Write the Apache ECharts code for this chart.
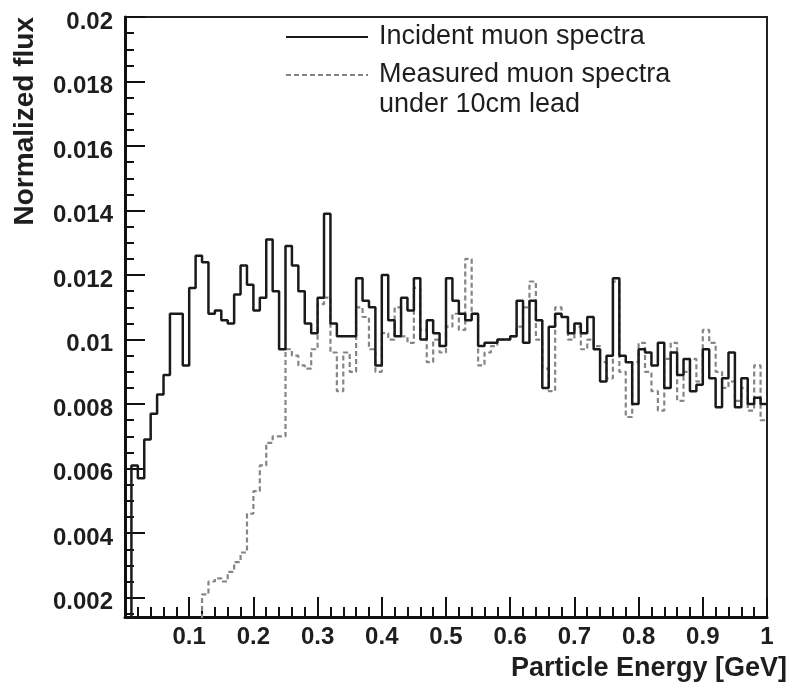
<!DOCTYPE html>
<html><head><meta charset="utf-8">
<script src="https://cdn.jsdelivr.net/npm/echarts@6/dist/echarts.min.js"></script>
<style>html,body{margin:0;padding:0;background:#fff}#c{width:792px;height:689px}</style>
</head><body><div id="c"></div>
<script>
// Histogram bins: 100 bins of width 0.01 GeV starting at 0
const binStart = 0;
const binWidth = 0.01;

const incidentName = 'Incident muon spectra';
const measuredName = 'Measured muon spectra\nunder 10cm lead';

const incident = [
  0.0010, 0.0061, 0.0057, 0.0069, 0.0077, 0.0083, 0.0089, 0.0108, 0.0108, 0.0092,
  0.0116, 0.0126, 0.0124, 0.0108, 0.0109, 0.0106, 0.0105, 0.0114, 0.0123, 0.0117,
  0.0109, 0.0113, 0.0131, 0.0115, 0.0097, 0.0129, 0.0123, 0.0115, 0.0105, 0.0102,
  0.0113, 0.0139, 0.0105, 0.0101, 0.0101, 0.0101, 0.0119, 0.0112, 0.0110, 0.0092,
  0.0120, 0.0106, 0.0101, 0.0113, 0.0109, 0.0119, 0.0100, 0.0106, 0.0102, 0.0098,
  0.0119, 0.0112, 0.0108, 0.0106, 0.0108, 0.0098, 0.0099, 0.0099, 0.0100, 0.0100,
  0.0101, 0.0112, 0.0099, 0.0112, 0.0106, 0.0085, 0.0104, 0.0108, 0.0107, 0.0102,
  0.0105, 0.0102, 0.0107, 0.0097, 0.0087, 0.0095, 0.0119, 0.0095, 0.0093, 0.0080,
  0.0097, 0.0096, 0.0092, 0.0099, 0.0085, 0.0096, 0.0089, 0.0094, 0.0084, 0.0086,
  0.0097, 0.0088, 0.0079, 0.0088, 0.0096, 0.0079, 0.0088, 0.0080, 0.0082, 0.0080
];

const measured = [
  0.0005, 0.0005, 0.0005, 0.0005, 0.0005, 0.0005, 0.0005, 0.0005, 0.0005, 0.0005,
  0.0005, 0.0005, 0.0021, 0.0025, 0.0026, 0.0025, 0.0028, 0.0031, 0.0034, 0.0046,
  0.0053, 0.0061, 0.0068, 0.0070, 0.0070, 0.0097, 0.0095, 0.0092, 0.0091, 0.0097,
  0.0111, 0.0113, 0.0096, 0.0084, 0.0096, 0.0090, 0.0110, 0.0107, 0.0097, 0.0090,
  0.0102, 0.0100, 0.0110, 0.0101, 0.0099, 0.0116, 0.0103, 0.0093, 0.0100, 0.0096,
  0.0104, 0.0108, 0.0103, 0.0125, 0.0108, 0.0092, 0.0096, 0.0098, 0.0100, 0.0100,
  0.0101, 0.0104, 0.0110, 0.0118, 0.0100, 0.0091, 0.0084, 0.0110, 0.0107, 0.0100,
  0.0104, 0.0097, 0.0100, 0.0098, 0.0093, 0.0088, 0.0118, 0.0090, 0.0076, 0.0093,
  0.0099, 0.0090, 0.0084, 0.0078, 0.0094, 0.0099, 0.0081, 0.0090, 0.0094, 0.0087,
  0.0103, 0.0099, 0.0090, 0.0085, 0.0087, 0.0081, 0.0085, 0.0078, 0.0092, 0.0075
];

const yMajorTicks = [0.002, 0.004, 0.006, 0.008, 0.01, 0.012, 0.014, 0.016, 0.018, 0.02];
const yMinorTicks = [0.0015, 0.0025, 0.003, 0.0035, 0.0045, 0.005, 0.0055, 0.0065, 0.007, 0.0075,
  0.0085, 0.009, 0.0095, 0.0105, 0.011, 0.0115, 0.0125, 0.013, 0.0135, 0.0145, 0.015, 0.0155,
  0.0165, 0.017, 0.0175, 0.0185, 0.019, 0.0195];
const xTickLabels = ['', '0.1', '0.2', '0.3', '0.4', '0.5', '0.6', '0.7', '0.8', '0.9', '1'];

function toSteps(vals) {
  const pts = vals.map((v, i) => [+(binStart + i * binWidth).toFixed(4), v]);
  pts.push([+(binStart + vals.length * binWidth).toFixed(4), vals[vals.length - 1]]);
  return pts;
}

const FONT = "'Liberation Sans', Arial, Helvetica, sans-serif";
const INK = '#1e1e1e';

const chart = echarts.init(document.getElementById('c'), null, {renderer: 'canvas'});
chart.setOption({
  animation: false,
  backgroundColor: '#ffffff',
  grid: {
    left: 125, right: 25, top: 13, bottom: 72,
    show: true, borderColor: '#222', borderWidth: 2, backgroundColor: 'transparent'
  },
  legend: [
    {
      data: [incidentName], left: 285, top: 22, padding: 0, orient: 'vertical',
      itemWidth: 82, itemHeight: 14, selectedMode: false,
      itemStyle: {opacity: 0},
      textStyle: {fontFamily: FONT, fontSize: 27, color: INK, lineHeight: 30, padding: [0, 0, 0, 6]}
    },
    {
      data: [measuredName], left: 285, top: 30, padding: 0, orient: 'vertical',
      itemWidth: 82, itemHeight: 14, selectedMode: false,
      itemStyle: {opacity: 0},
      formatter: (name) => '\n' + name,
      textStyle: {fontFamily: FONT, fontSize: 27, color: INK, lineHeight: 30, padding: [0, 0, 0, 6]}
    }
  ],
  xAxis: {
    type: 'value', min: 0, max: 1, interval: 0.1,
    name: 'Particle Energy [GeV]', nameLocation: 'end', nameGap: 20,
    nameMoveOverlap: false,
    nameTextStyle: {fontFamily: FONT, fontSize: 27, fontWeight: 'bold', color: INK,
      align: 'right', verticalAlign: 'top', padding: [38, 0, 0, 0]},
    axisLine: {lineStyle: {color: '#111', width: 3}},
    axisTick: {inside: true, length: 20, lineStyle: {color: '#111', width: 2}},
    minorTick: {show: true, splitNumber: 5, length: 10, lineStyle: {color: '#111', width: 2}},
    axisLabel: {fontFamily: FONT, fontSize: 24, fontWeight: 'bold', color: INK, margin: 8,
      formatter: (v) => xTickLabels[Math.round(v * 10)] || ''},
    splitLine: {show: false}
  },
  yAxis: [
    {
      type: 'value', min: 0.0014, max: 0.02, position: 'left',
      name: 'Normalized flux', nameLocation: 'end', nameGap: 0, nameRotate: 90,
      nameMoveOverlap: false,
      nameTextStyle: {fontFamily: FONT, fontSize: 28, fontWeight: 'bold', color: INK,
        align: 'right', verticalAlign: 'bottom', padding: [0, 0, 86, 0]},
      axisLine: {show: true, lineStyle: {color: '#111', width: 3}},
      axisTick: {show: true, inside: true, length: 20, customValues: yMajorTicks,
        lineStyle: {color: '#111', width: 2}},
      axisLabel: {margin: 12, customValues: yMajorTicks,
        formatter: (v) => '{t|' + String(+v.toFixed(4)) + '}',
        rich: {t: {fontFamily: FONT, fontSize: 24, fontWeight: 'bold', color: INK,
          padding: [10, 0, 0, 0], lineHeight: 26}}},
      splitLine: {show: false}
    },
    {
      type: 'value', min: 0.0014, max: 0.02, position: 'left',
      axisLine: {show: false},
      axisTick: {show: true, inside: true, length: 9, customValues: yMinorTicks,
        lineStyle: {color: '#111', width: 2}},
      axisLabel: {show: false},
      splitLine: {show: false}
    }
  ],
  series: [
    {
      name: measuredName, type: 'line', step: 'end', data: toSteps(measured),
      yAxisIndex: 0, symbol: 'none', clip: true,
      lineStyle: {color: '#858585', width: 2.2, type: [5, 3]},
      itemStyle: {color: '#858585'}, z: 2
    },
    {
      name: incidentName, type: 'line', step: 'end', data: toSteps(incident),
      yAxisIndex: 0, symbol: 'none', clip: true,
      lineStyle: {color: '#1a1a1a', width: 2.5},
      itemStyle: {color: '#1a1a1a'}, z: 3
    }
  ]
});
</script>
</body></html>
